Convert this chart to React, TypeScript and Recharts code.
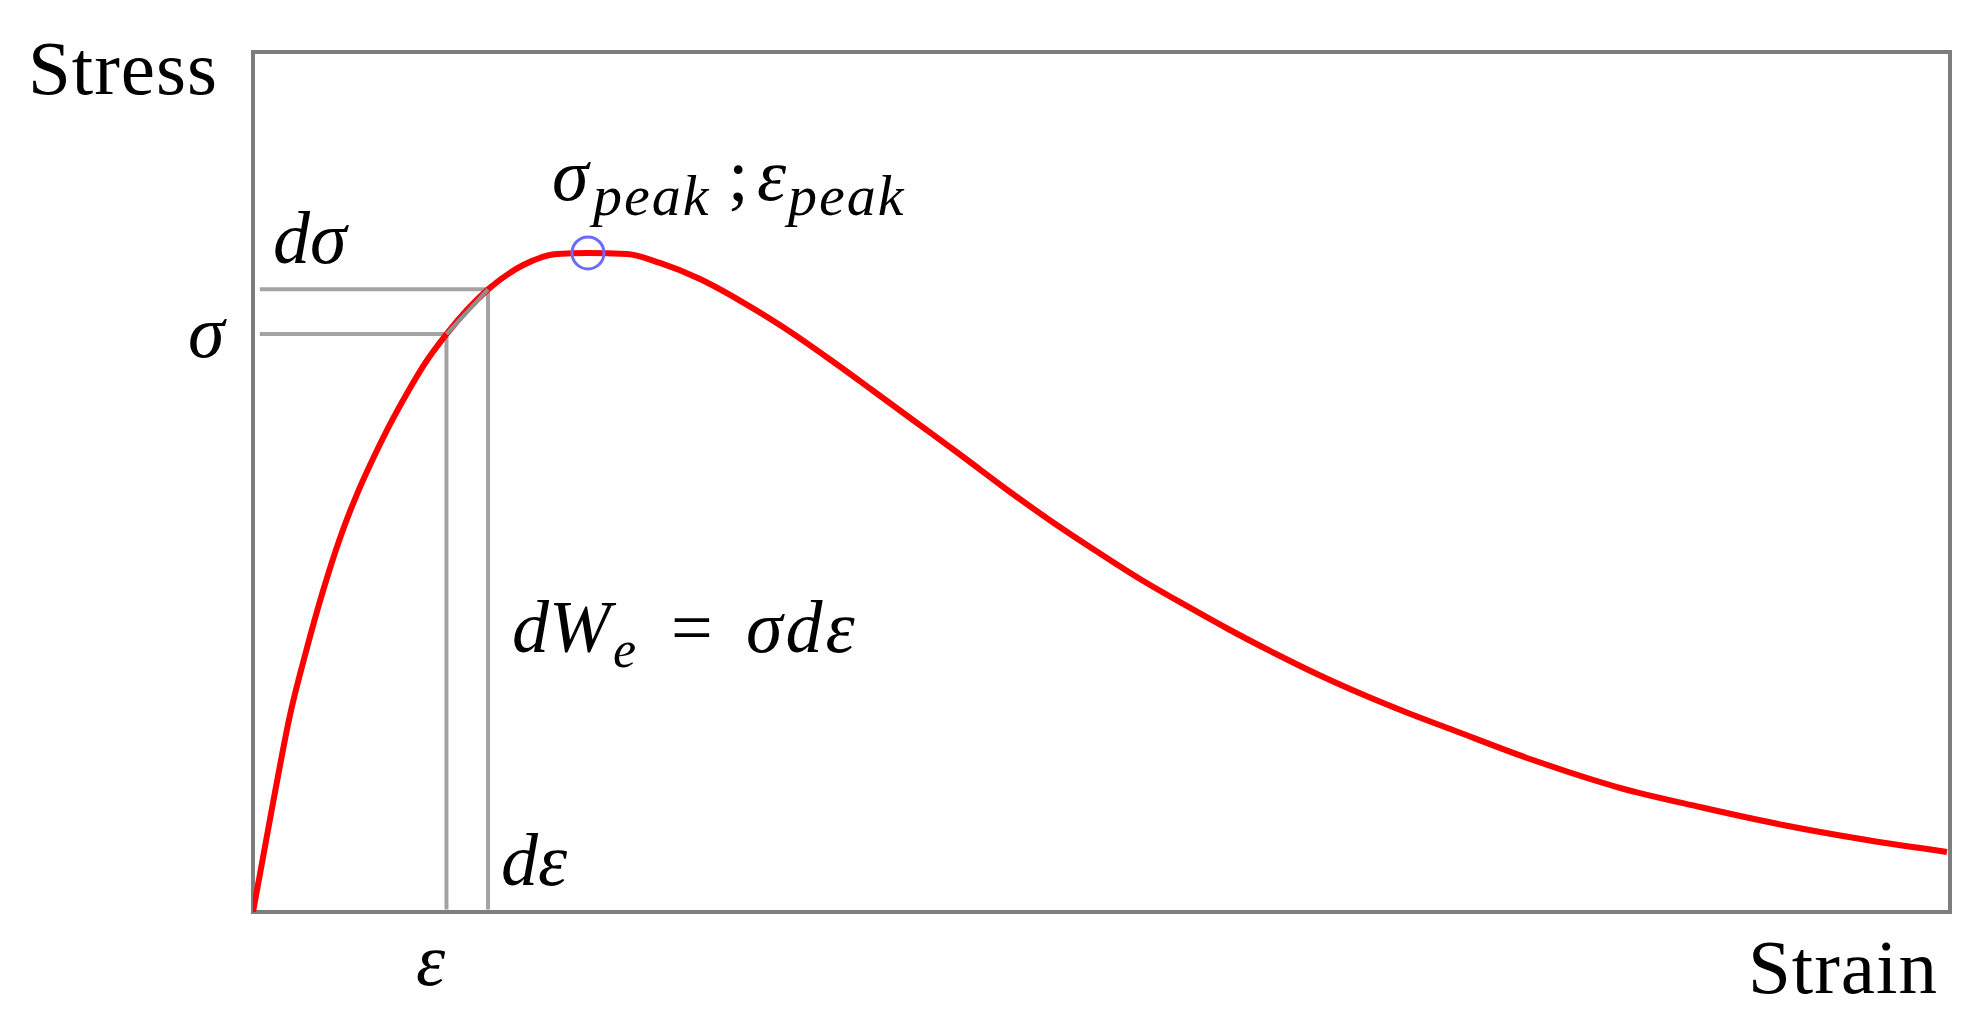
import {
  LineChart,
  Line,
  XAxis,
  YAxis,
  ReferenceArea,
  ReferenceLine,
  ReferenceDot,
} from 'recharts';

// strain (x) and stress (y), both on a 0–100 scale
const strain = [
  0, 1.18, 2.18, 3.18, 4.12, 5.13, 6.13, 7.07, 8.07, 9.07, 10.0, 11.4, 13.85,
  15.9, 17.9, 19.74, 22.04, 23.98, 26.34, 28.64, 31.23, 33.88, 36.48, 39.13,
  41.78, 44.37, 47.02, 49.68, 52.27, 54.92, 57.57, 60.17, 62.82, 65.47, 68.06,
  70.71, 75.43, 80.38, 85.27, 90.16, 95.11, 99.82,
];
const stress = [
  0, 12.7, 22.9, 30.7, 37.3, 43.5, 48.6, 52.7, 56.7, 60.3, 63.4, 67.2, 72.4,
  75.2, 76.5, 76.63, 76.51, 75.47, 73.6, 71.16, 68.02, 64.42, 60.7, 56.86,
  53.02, 49.19, 45.47, 41.98, 38.72, 35.7, 32.79, 30.12, 27.56, 25.23, 23.14,
  21.16, 17.67, 14.53, 12.21, 10.12, 8.37, 6.98,
];

// the marked increment and the peak
const eps = 11.4;
const epsPlusD = 13.85;
const sig = 67.2;
const sigPlusD = 72.4;
const peak = { strain: 19.74, stress: 76.63 };

const data = strain.map((x, i) => ({ strain: x, stress: stress[i] }));

const GRAY = '#a3a3a3';
const SERIF = '"Liberation Serif", "Times New Roman", serif';

export default function App() {
  return (
    <div style={{ position: 'absolute', left: 0, top: 0, width: 1976, height: 1027, background: '#fff' }}>
      <LineChart
        width={1976}
        height={1027}
        data={data}
        margin={{ top: 52, right: 26, bottom: 115, left: 253 }}
      >
        <XAxis type="number" dataKey="strain" domain={[0, 100]} hide allowDataOverflow />
        <YAxis type="number" domain={[0, 100]} hide allowDataOverflow />

        <ReferenceLine segment={[{ x: 0.4, y: sigPlusD }, { x: epsPlusD, y: sigPlusD }]} stroke={GRAY} strokeWidth={4} />
        <ReferenceLine segment={[{ x: 0.4, y: sig }, { x: eps, y: sig }]} stroke={GRAY} strokeWidth={4} />
        <ReferenceLine segment={[{ x: epsPlusD, y: sigPlusD }, { x: epsPlusD, y: 0.3 }]} stroke={GRAY} strokeWidth={4} />
        <ReferenceLine segment={[{ x: eps, y: sig }, { x: eps, y: 0.3 }]} stroke={GRAY} strokeWidth={4} />

        <Line
          type="monotone"
          dataKey="stress"
          stroke="#ff0000"
          strokeWidth={6}
          dot={false}
          activeDot={false}
          isAnimationActive={false}
        />

        <ReferenceLine segment={[{ x: eps, y: sig }, { x: epsPlusD, y: sigPlusD }]} stroke="#8f8f8f" strokeWidth={4} />
        <ReferenceArea x1={0} x2={100} y1={0} y2={100} fill="none" stroke="#7d7d7d" strokeWidth={4} />
        <ReferenceDot x={peak.strain} y={peak.stress} r={16} fill="none" stroke="#6b6bff" strokeWidth={3} />

        <text x={28} y={94} fontFamily={SERIF} fontSize={77} letterSpacing={1} fill="#000">Stress</text>
        <text x={1748} y={993} fontFamily={SERIF} fontSize={77} letterSpacing={1} fill="#000">Strain</text>

        <g fontFamily={SERIF} fontStyle="italic" fill="#000">
          <text x={188} y={357} fontSize={74}>σ</text>
          <text x={273} y={263} fontSize={74}>dσ</text>
          <text x={552} y={200} fontSize={74}>
            σ
            <tspan x={593} y={215} fontSize={58} letterSpacing={2}>peak</tspan>
            <tspan x={728} y={200} fontSize={74} fontStyle="normal">;</tspan>
            <tspan x={757} y={200} fontSize={74}>ε</tspan>
            <tspan x={788} y={215} fontSize={58} letterSpacing={2}>peak</tspan>
          </text>
          <text x={512} y={652} fontSize={74}>
            dW
            <tspan x={613} y={667} fontSize={52}>e</tspan>
            <tspan x={671} y={652} fontStyle="normal">=</tspan>
            <tspan x={746} y={652} letterSpacing={3}>σdε</tspan>
          </text>
          <text x={501} y={885} fontSize={74}>dε</text>
          <text x={416} y={985} fontSize={74}>ε</text>
        </g>
      </LineChart>
    </div>
  );
}
